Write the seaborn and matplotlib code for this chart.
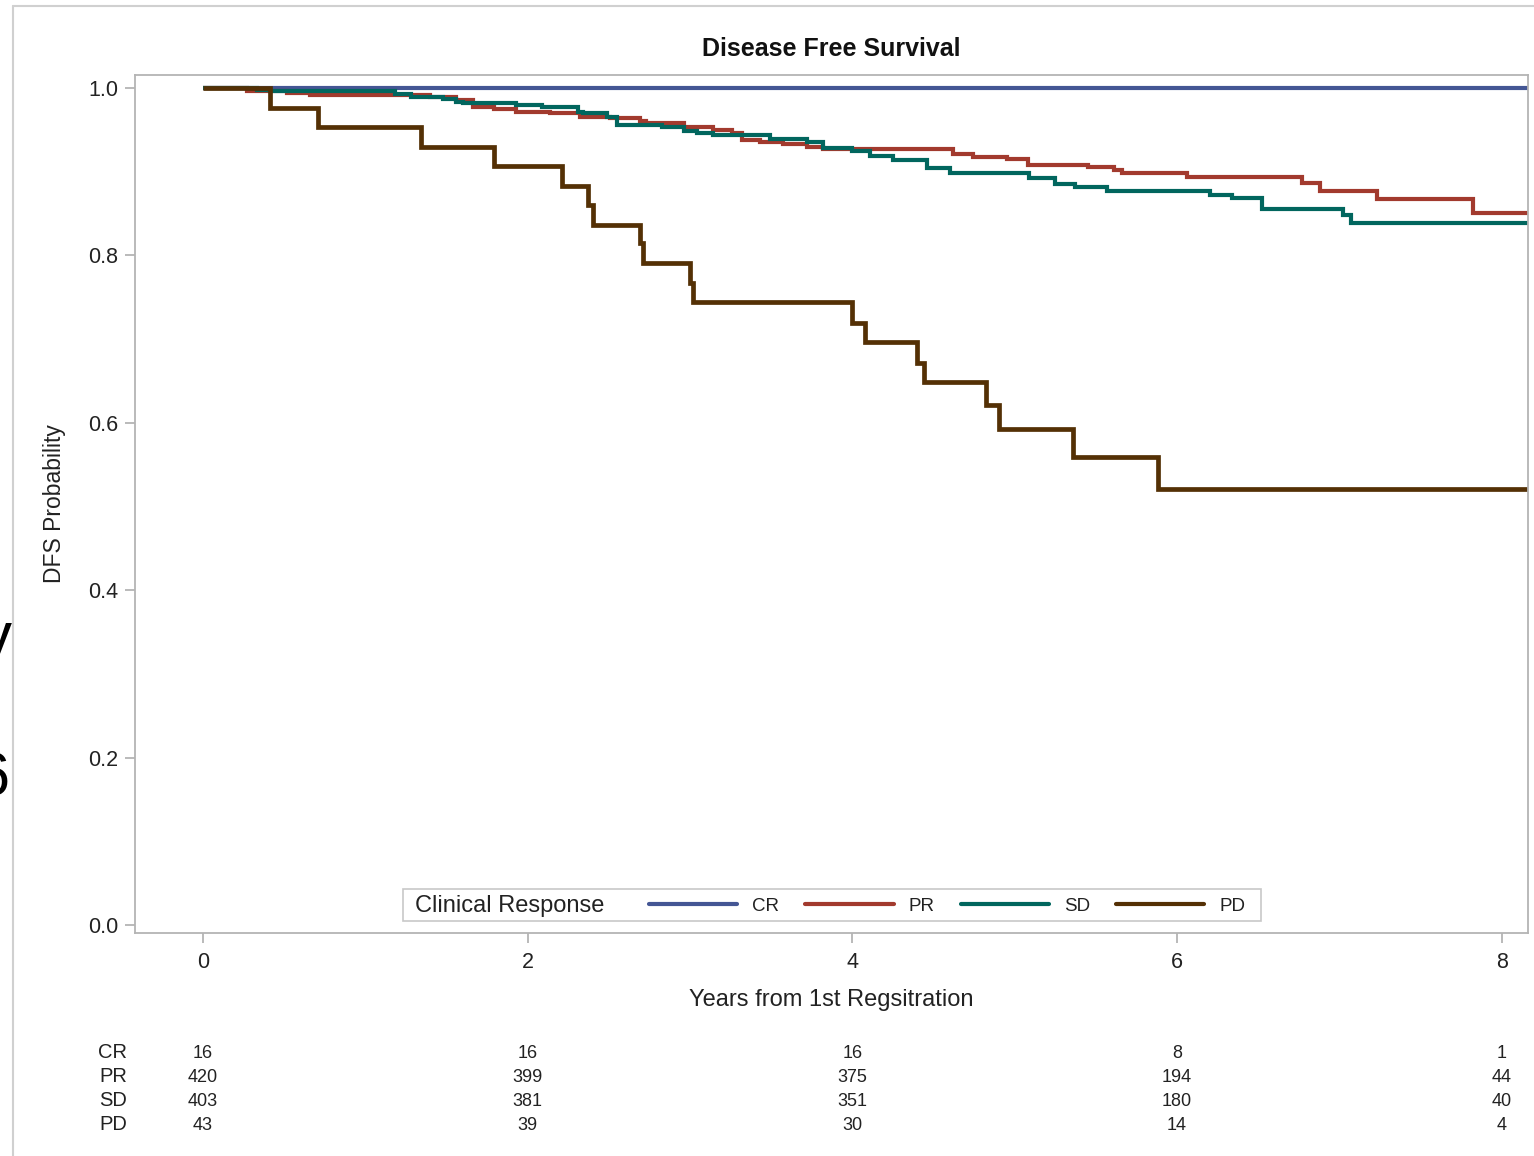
import numpy as np
import pandas as pd
import matplotlib
matplotlib.use("Agg")
import matplotlib.pyplot as plt
import seaborn as sns
from matplotlib.transforms import blended_transform_factory
from matplotlib.lines import Line2D
from matplotlib.patches import Rectangle

# ---------------- data ----------------
groups = ["CR", "PR", "SD", "PD"]
colors = ["#445694", "#A23A2E", "#01665E", "#543005"]
last_followup = 8.16

cr_time = [0.0]
cr_surv = [1.0]

pr_time = [0.0, 0.27, 0.52, 0.66, 1.40, 1.56, 1.66, 1.79, 1.93, 2.14, 2.32, 2.51, 2.69,
           2.73, 2.96, 3.14, 3.26, 3.32, 3.43, 3.57, 3.72, 3.82, 4.62, 4.74, 4.95, 5.08,
           5.45, 5.61, 5.66, 6.06, 6.77, 6.88, 7.23, 7.82]
pr_surv = [1.0, 0.996, 0.994, 0.992, 0.989, 0.986, 0.977, 0.975, 0.971, 0.970, 0.965, 0.964,
           0.961, 0.958, 0.953, 0.950, 0.946, 0.938, 0.935, 0.933, 0.930, 0.927, 0.921, 0.918,
           0.915, 0.908, 0.906, 0.902, 0.898, 0.894, 0.886, 0.877, 0.867, 0.851]

sd_time = [0.0, 0.33, 0.41, 1.18, 1.28, 1.48, 1.56, 1.60, 1.93, 2.09, 2.31, 2.34, 2.49, 2.55,
           2.83, 2.96, 3.04, 3.14, 3.49, 3.72, 3.82, 4.00, 4.11, 4.25, 4.46, 4.60, 5.09, 5.25,
           5.37, 5.57, 6.20, 6.34, 6.52, 7.02, 7.07]
sd_surv = [1.0, 0.998, 0.997, 0.993, 0.989, 0.987, 0.983, 0.982, 0.980, 0.977, 0.971, 0.970,
           0.965, 0.956, 0.953, 0.949, 0.946, 0.944, 0.939, 0.935, 0.928, 0.925, 0.919, 0.914,
           0.904, 0.898, 0.892, 0.885, 0.882, 0.877, 0.872, 0.869, 0.855, 0.848, 0.839]

pd_time = [0.0, 0.41, 0.71, 1.34, 1.79, 2.21, 2.37, 2.40, 2.69, 2.71, 3.00, 3.02, 4.00, 4.08,
           4.40, 4.44, 4.82, 4.90, 5.36, 5.88]
pd_surv = [1.0, 0.976, 0.953, 0.930, 0.907, 0.883, 0.860, 0.836, 0.815, 0.791, 0.767, 0.744,
           0.719, 0.697, 0.671, 0.649, 0.621, 0.593, 0.559, 0.521]

risk_times = [0, 2, 4, 6, 8]
risk_cr = [16, 16, 16, 8, 1]
risk_pr = [420, 399, 375, 194, 44]
risk_sd = [403, 381, 351, 180, 40]
risk_pd = [43, 39, 30, 14, 4]

title = "Disease Free Survival"
xlabel = "Years from 1st Regsitration"
ylabel = "DFS Probability"
legend_title = "Clinical Response"

# ---------------- build table ----------------
series = {"CR": (cr_time, cr_surv), "PR": (pr_time, pr_surv),
          "SD": (sd_time, sd_surv), "PD": (pd_time, pd_surv)}
frames = []
for g in groups:
    t, s = series[g]
    t = list(t) + [last_followup]
    s = list(s) + [s[-1]]
    frames.append(pd.DataFrame({"time": t, "surv": s, "group": g}))
df = pd.concat(frames, ignore_index=True)

# ---------------- plot ----------------
sns.set_theme(style="white")
plt.rcParams["font.family"] = ["Liberation Sans", "DejaVu Sans"]

W, H = 1534, 1156
fig = plt.figure(figsize=(W / 100, H / 100), dpi=100)
ax = fig.add_axes([135 / W, 1 - 933 / H, (1528 - 135) / W, (933 - 75) / H])

palette = dict(zip(groups, colors))
sns.lineplot(data=df, x="time", y="surv", hue="group", hue_order=groups, palette=palette,
             estimator=None, units="group", sort=False, drawstyle="steps-post",
             linewidth=3.0, legend=False, ax=ax)
for ln in ax.lines:
    ln.set_solid_joinstyle("miter")
    ln.set_solid_capstyle("butt")
ax.lines[-1].set_linewidth(3.4)

x0 = -(203 - 135) / 162.35
x1 = (1528 - 203) / 162.35
ax.set_xlim(x0, x1)
ax.set_ylim((925 - 933) / 837, (925 - 75) / 837)
ax.set_xticks(risk_times)
ax.set_yticks([0, 0.2, 0.4, 0.6, 0.8, 1.0])
ax.set_yticklabels([f"{v:.1f}" for v in [0, 0.2, 0.4, 0.6, 0.8, 1.0]])
ax.tick_params(axis="both", which="both", direction="out", length=7, width=1.3,
               color="#b4b4b4", labelcolor="#222222", labelsize=15.5, left=True, bottom=True)
ax.tick_params(axis="x", pad=7)
ax.tick_params(axis="y", pad=5)
for sp in ax.spines.values():
    sp.set_color("#b4b4b4")
    sp.set_linewidth(1.3)
ax.set_xlabel(xlabel, fontsize=17, color="#222222", labelpad=11)
ax.set_ylabel(ylabel, fontsize=16.5, color="#222222", labelpad=16)
ax.set_title(title, fontsize=18, fontweight="bold", color="#111111", pad=14)

# ---------------- legend ----------------
handles = [Line2D([], [], color=c, lw=3.0) for c in colors]
fig.patches.append(Rectangle((403 / W, 1 - 921 / H), (1261 - 403) / W, (921 - 889) / H,
                             transform=fig.transFigure, facecolor="white",
                             edgecolor="#c8c8c8", lw=1.2, zorder=3))
fig.text(415 / W, 1 - 906 / H, legend_title, fontsize=17, color="#222222",
         ha="left", va="center", zorder=4)
fig.legend(handles, groups, loc="center left", bbox_to_anchor=(649 / W, 1 - 906 / H),
           ncol=4, frameon=False, fontsize=13.5, handlelength=4.7, handletextpad=0.8,
           columnspacing=1.4, borderpad=0, borderaxespad=0, labelcolor="#222222")

# ---------------- at-risk table ----------------
trans = blended_transform_factory(ax.transData, fig.transFigure)
risk_rows = [risk_cr, risk_pr, risk_sd, risk_pd]
row_y = [1053, 1077, 1101, 1125]
for g, vals, yp in zip(groups, risk_rows, row_y):
    fig.text(113 / W, 1 - (yp - 1) / H, g, fontsize=14.5, color="#222222", ha="center", va="center")
    for t, v in zip(risk_times, vals):
        ax.text(t, 1 - yp / H, str(v), transform=trans, fontsize=13, color="#222222",
                ha="center", va="center", clip_on=False)

# ---------------- page frame & cropped artifacts ----------------
fig.add_artist(Line2D([13 / W, 13 / W], [0, 1 - 6 / H], transform=fig.transFigure,
                      color="#d0d0d0", lw=1.5))
fig.add_artist(Line2D([13 / W, 1], [1 - 6 / H, 1 - 6 / H], transform=fig.transFigure,
                      color="#d0d0d0", lw=1.5))
fig.text(12 / W, 1 - 640 / H, "y", fontsize=46, color="black", ha="right", va="center")
fig.text(10 / W, 1 - 780 / H, "6", fontsize=44, color="black", ha="right", va="center")

fig.savefig("out.png", dpi=100, facecolor="white")
